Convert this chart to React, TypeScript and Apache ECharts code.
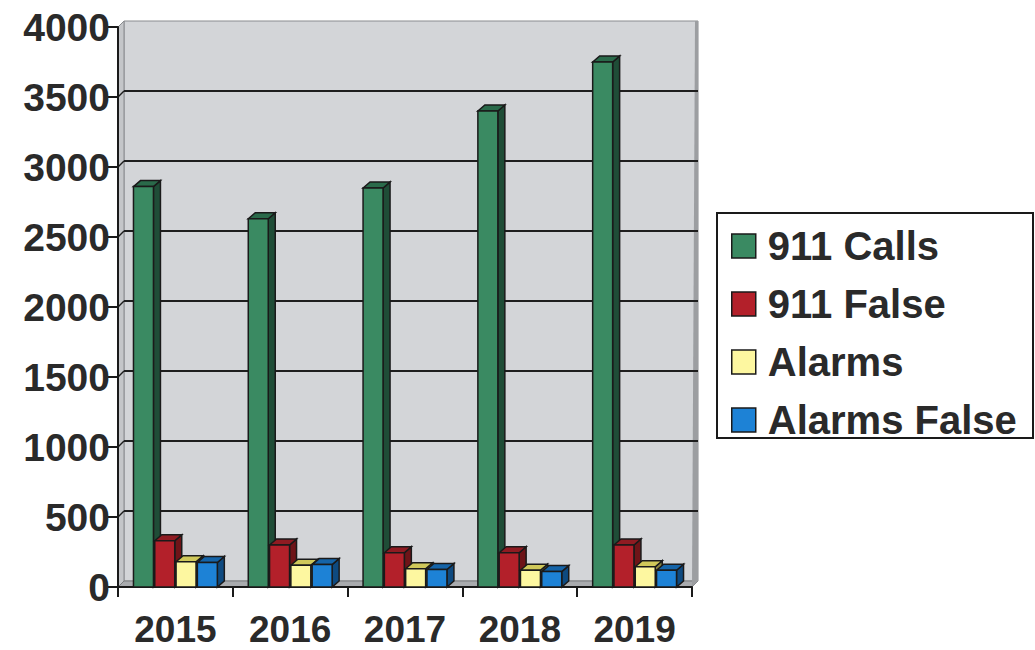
import React, { useEffect, useRef } from "react";
import * as echarts from "echarts";

const years = ["2015", "2016", "2017", "2018", "2019"];
const calls911 = [2860, 2630, 2850, 3400, 3750];
const false911 = [330, 300, 245, 245, 300];
const alarms = [180, 155, 130, 120, 145];
const alarmsFalse = [175, 160, 125, 110, 120];
const yTicks = [0, 500, 1000, 1500, 2000, 2500, 3000, 3500, 4000];

const seriesNames = ["911 Calls", "911 False", "Alarms", "Alarms False"];
const seriesValues = [calls911, false911, alarms, alarmsFalse];
const frontColors = ["#3a8a62", "#b3202a", "#fdf7a0", "#1d82d6"];
const sideColors = ["#1f4d37", "#6e1418", "#8a8440", "#0e4a80"];
const topColors = ["#2a6a4a", "#8f1b22", "#cfc85a", "#1564a8"];

const FONT = "'Liberation Sans', Arial, sans-serif";
const TEXT = "#2a2a2a";
const EDGE = "#1a1a1a";

export default function App() {
  const ref = useRef<HTMLDivElement>(null);
  useEffect(() => {
    if (!ref.current) return;
    const chart = echarts.init(ref.current, undefined, { renderer: "svg" });
    const WD = 6; // wall depth

    const bgSeries: any = {
      type: "custom",
      name: "__bg",
      silent: true,
      clip: false,
      z: 0,
      data: [[0, 0]],
      renderItem: (params: any, api: any) => {
        const cs = params.coordSys;
        const x0 = cs.x, y0 = cs.y, w = cs.width, h = cs.height;
        const yb = y0 + h;
        const children: any[] = [];
        children.push({
          type: "rect",
          shape: { x: x0 + WD, y: y0 - WD, width: w, height: h },
          style: { fill: "#d3d5d8", stroke: "#8a8c8f", lineWidth: 1 },
        });
        children.push({
          type: "polygon",
          shape: { points: [[x0, y0], [x0 + WD, y0 - WD], [x0 + WD, yb - WD], [x0, yb]] },
          style: { fill: "#c4c6c9", stroke: "#8a8c8f", lineWidth: 1 },
        });
        children.push({
          type: "polygon",
          shape: { points: [[x0, yb], [x0 + WD, yb - WD], [x0 + w + WD, yb - WD], [x0 + w, yb]] },
          style: { fill: "#a9abae", stroke: "#7a7c7f", lineWidth: 1 },
        });
        children.push({
          type: "polygon",
          shape: { points: [[x0 + w + WD - 3, y0 - WD], [x0 + w + WD, y0 - WD], [x0 + w + WD, yb - WD], [x0 + w, yb]] },
          style: { fill: "#9c9ea1" },
        });
        yTicks.forEach((t) => {
          if (t === 0 || t === yTicks[yTicks.length - 1]) return;
          const py = api.coord([0, t])[1];
          children.push({
            type: "line",
            shape: { x1: x0 + WD, y1: py - WD, x2: x0 + w + WD, y2: py - WD },
            style: { stroke: "#1e1e1e", lineWidth: 2 },
          });
          children.push({
            type: "line",
            shape: { x1: x0, y1: py, x2: x0 + WD, y2: py - WD },
            style: { stroke: "#1e1e1e", lineWidth: 1.5 },
          });
        });
        return { type: "group", children };
      },
    };

    const barSeries = seriesValues.map((vals, si) => ({
      type: "custom",
      name: seriesNames[si],
      z: 2 + si,
      clip: false,
      itemStyle: { color: frontColors[si] },
      data: vals.map((v, i) => [i, v]),
      encode: { x: 0, y: 1 },
      renderItem: (params: any, api: any) => {
        const cat = api.value(0);
        const val = api.value(1);
        const top = api.coord([cat, val]);
        const base = api.coord([cat, 0]);
        const bw = api.size([1, 0])[0];
        const step = bw * 0.1855;
        const bwid = bw * 0.174;
        const dx = 7, dy = 6;
        const left = top[0] - 2 * step + si * step + (step - bwid) / 2;
        const yt = top[1];
        const yb = base[1];
        return {
          type: "group",
          children: [
            {
              type: "polygon",
              shape: { points: [[left + bwid, yt], [left + bwid + dx, yt - dy], [left + bwid + dx, yb - dy], [left + bwid, yb]] },
              style: { fill: sideColors[si], stroke: EDGE, lineWidth: 1.5 },
            },
            {
              type: "polygon",
              shape: { points: [[left, yt], [left + dx, yt - dy], [left + bwid + dx, yt - dy], [left + bwid, yt]] },
              style: { fill: topColors[si], stroke: EDGE, lineWidth: 1.5 },
            },
            {
              type: "rect",
              shape: { x: left, y: yt, width: bwid, height: yb - yt },
              style: { fill: frontColors[si], stroke: EDGE, lineWidth: 1.5 },
            },
          ],
        };
      },
    }));

    chart.setOption({
      animation: false,
      backgroundColor: "#ffffff",
      grid: { left: 118, top: 27, width: 574, height: 560 },
      xAxis: {
        type: "category",
        data: years,
        boundaryGap: true,
        axisLine: { show: true, lineStyle: { color: "#1a1a1a", width: 2 } },
        axisTick: { show: true, length: 10, lineStyle: { color: "#1a1a1a", width: 2 } },
        axisLabel: {
          margin: 24,
          fontSize: 37,
          lineHeight: 37,
          fontWeight: "bold",
          fontFamily: FONT,
          color: TEXT,
        },
        splitLine: { show: false },
      },
      yAxis: {
        type: "value",
        min: 0,
        max: 4000,
        interval: 500,
        axisLine: { show: true, lineStyle: { color: "#1a1a1a", width: 2 } },
        axisTick: { show: true, length: 10, lineStyle: { color: "#1a1a1a", width: 2 } },
        axisLabel: {
          margin: 8,
          fontSize: 39,
          fontWeight: "bold",
          fontFamily: FONT,
          color: TEXT,
          formatter: (v: number) => String(v),
        },
        splitLine: { show: false },
      },
      legend: {
        orient: "vertical",
        left: 731,
        top: 226,
        padding: 0,
        itemGap: 18,
        itemWidth: 24,
        itemHeight: 24,
        z: 10,
        selectedMode: false,
        textStyle: {
          fontSize: 40,
          fontWeight: "bold",
          fontFamily: FONT,
          color: TEXT,
          lineHeight: 40,
          padding: [0, 0, 0, 7],
        },
        data: seriesNames.map((n, i) => ({
          name: n,
          icon: "rect",
          itemStyle: { color: frontColors[i], borderColor: EDGE, borderWidth: 1.5 },
        })),
      },
      graphic: [
        {
          type: "rect",
          z: 0,
          shape: { x: 717, y: 213, width: 316, height: 225 },
          style: { fill: "#ffffff", stroke: "#1a1a1a", lineWidth: 2 },
        },
      ],
      series: [bgSeries, ...barSeries],
    });
    return () => chart.dispose();
  }, []);
  return (
    <div
      ref={ref}
      style={{ position: "absolute", left: 0, top: 0, width: 1035, height: 650 }}
    />
  );
}
